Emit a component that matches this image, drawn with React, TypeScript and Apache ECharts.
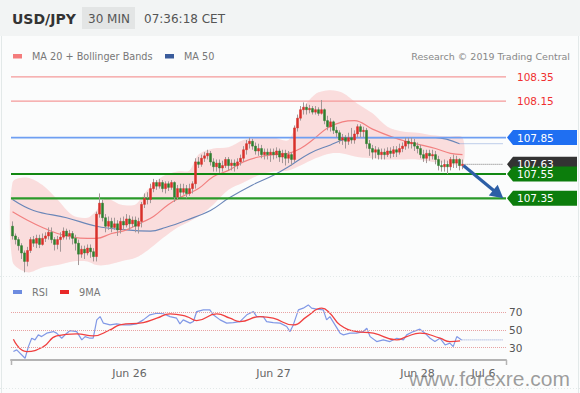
import React, { useEffect, useRef } from 'react';
import * as echarts from 'echarts';

const FONT = '"DejaVu Sans", Verdana, sans-serif';

// x slots (30-minute bars) on the shared time axis
const SLOTS = 165;
const tickLabels: [number, string][] = [[39, 'Jun 26'], [87, 'Jun 27'], [135, 'Jun 28'], [157, 'Jul 6']];

// USD/JPY 30-min candles: [open, close, low, high]
const candles: number[][] = [
  [107.12,107.04,107.01,107.16],[107.04,107.01,106.97,107.06],[107.01,106.96,106.92,107.03],[106.96,106.90,106.85,106.98],[106.90,106.83,106.74,106.92],
  [106.83,106.92,106.79,106.95],[106.92,107.01,106.90,107.03],[107.01,106.98,106.95,107.04],[106.98,107.02,106.94,107.05],[107.02,106.97,106.94,107.05],
  [106.97,107.02,106.96,107.06],[107.02,107.04,106.99,107.07],[107.04,107.07,107.01,107.11],[107.07,107.01,106.98,107.11],[107.01,106.97,106.92,107.03],
  [106.97,107.01,106.93,107.04],[107.01,107.03,106.91,107.07],[107.03,107.08,107.01,107.11],[107.08,107.04,107.01,107.10],[107.04,107.06,107.01,107.09],
  [107.06,107.02,106.97,107.08],[107.02,106.98,106.92,107.05],[106.98,106.89,106.80,107.01],[106.89,106.93,106.86,106.96],[106.93,106.90,106.85,106.96],
  [106.90,106.94,106.88,106.97],[106.94,106.91,106.86,106.97],[106.91,106.87,106.83,106.94],[106.87,107.22,106.83,107.24],[107.22,107.31,107.19,107.39],
  [107.31,107.19,107.16,107.34],[107.19,107.12,107.07,107.22],[107.12,107.16,107.09,107.20],[107.16,107.11,107.07,107.19],[107.11,107.14,107.09,107.19],
  [107.14,107.09,107.04,107.17],[107.09,107.16,107.06,107.19],[107.16,107.13,107.09,107.20],[107.13,107.18,107.11,107.22],[107.18,107.14,107.09,107.21],
  [107.14,107.17,107.11,107.20],[107.17,107.12,107.07,107.20],[107.12,107.16,107.06,107.19],[107.16,107.30,107.11,107.32],[107.30,107.35,107.27,107.39],
  [107.35,107.34,107.30,107.40],[107.34,107.43,107.31,107.47],[107.43,107.48,107.40,107.51],[107.48,107.45,107.42,107.50],[107.45,107.48,107.43,107.51],
  [107.48,107.43,107.40,107.50],[107.43,107.47,107.39,107.49],[107.47,107.44,107.41,107.49],[107.44,107.48,107.42,107.50],[107.48,107.36,107.32,107.49],
  [107.36,107.43,107.34,107.46],[107.43,107.40,107.36,107.47],[107.40,107.43,107.38,107.47],[107.43,107.39,107.35,107.46],[107.39,107.43,107.37,107.47],
  [107.43,107.47,107.39,107.49],[107.47,107.65,107.43,107.68],[107.65,107.63,107.60,107.69],[107.63,107.68,107.61,107.71],[107.68,107.70,107.65,107.73],
  [107.70,107.72,107.67,107.75],[107.72,107.65,107.62,107.74],[107.65,107.61,107.57,107.68],[107.61,107.64,107.57,107.67],[107.64,107.60,107.56,107.67],
  [107.60,107.62,107.57,107.66],[107.62,107.67,107.60,107.69],[107.67,107.62,107.58,107.69],[107.62,107.64,107.58,107.67],[107.64,107.62,107.57,107.67],
  [107.62,107.65,107.59,107.68],[107.65,107.68,107.62,107.71],[107.68,107.75,107.65,107.78],[107.75,107.80,107.71,107.83],[107.80,107.82,107.76,107.85],
  [107.82,107.78,107.75,107.84],[107.78,107.74,107.71,107.81],[107.74,107.76,107.70,107.80],[107.76,107.71,107.68,107.79],[107.71,107.73,107.67,107.76],
  [107.73,107.71,107.67,107.76],[107.71,107.73,107.65,107.76],[107.73,107.71,107.67,107.76],[107.71,107.74,107.68,107.77],[107.74,107.69,107.65,107.76],
  [107.69,107.72,107.64,107.75],[107.72,107.68,107.62,107.75],[107.68,107.71,107.64,107.74],[107.71,107.67,107.62,107.73],[107.67,107.93,107.65,107.95],
  [107.93,108.01,107.90,108.04],[108.01,108.08,107.99,108.11],[108.08,108.10,108.04,108.14],[108.10,108.08,108.04,108.13],[108.08,108.09,108.05,108.12],
  [108.09,108.06,108.04,108.11],[108.06,108.08,108.04,108.11],[108.08,108.05,108.03,108.10],[108.05,108.08,108.04,108.16],[108.08,107.99,107.96,108.09],
  [107.99,107.94,107.91,108.03],[107.94,107.98,107.90,108.01],[107.98,107.91,107.88,107.99],[107.91,107.89,107.85,107.94],[107.89,107.83,107.80,107.91],
  [107.83,107.85,107.79,107.88],[107.85,107.82,107.76,107.87],[107.82,107.85,107.79,107.89],[107.85,107.83,107.80,107.93],[107.83,107.88,107.80,107.91],
  [107.88,107.94,107.85,107.96],[107.94,107.90,107.85,107.96],[107.90,107.91,107.85,107.94],[107.91,107.80,107.76,107.93],[107.80,107.76,107.70,107.83],
  [107.76,107.73,107.67,107.79],[107.73,107.75,107.68,107.78],[107.75,107.71,107.67,107.77],[107.71,107.73,107.67,107.76],[107.73,107.71,107.67,107.76],
  [107.71,107.74,107.69,107.77],[107.74,107.72,107.68,107.77],[107.72,107.75,107.69,107.78],[107.75,107.73,107.69,107.78],[107.73,107.76,107.71,107.80],
  [107.76,107.78,107.73,107.81],[107.78,107.82,107.75,107.85],[107.82,107.80,107.76,107.85],[107.80,107.81,107.76,107.85],[107.81,107.78,107.74,107.84],
  [107.78,107.76,107.72,107.81],[107.76,107.71,107.68,107.79],[107.71,107.68,107.65,107.75],[107.68,107.72,107.64,107.75],[107.72,107.70,107.66,107.75],
  [107.70,107.71,107.67,107.75],[107.71,107.67,107.63,107.74],[107.67,107.62,107.58,107.70],[107.62,107.61,107.57,107.66],[107.61,107.63,107.57,107.67],
  [107.63,107.61,107.55,107.66],[107.61,107.67,107.58,107.69],[107.67,107.64,107.60,107.71],[107.64,107.67,107.60,107.70],[107.67,107.62,107.58,107.68],
  [107.62,107.63,107.59,107.67],
];

// MA 20 (read at bar positions)
const ma20Idx = [0,5,10,15,20,25,28,33,38,43,47,52,57,62,67,72,77,82,87,92,96,100,105,110,114,120,126,131,136,141,146,150];
const ma20Val = [107.24,107.17,107.11,107.06,107.03,107.02,107.02,107.06,107.09,107.15,107.20,107.30,107.37,107.43,107.53,107.58,107.65,107.69,107.71,107.72,107.76,107.83,107.93,107.98,107.99,107.92,107.86,107.82,107.79,107.76,107.72,107.71];

// MA 50
const ma50Idx = [0,7,18,28,38,46,51,58,66,72,80,87,92,99,106,110,115,121,132,141,149];
const ma50Val = [107.34,107.25,107.19,107.12,107.09,107.08,107.11,107.17,107.25,107.35,107.46,107.54,107.61,107.72,107.79,107.83,107.85,107.85,107.85,107.85,107.80];

// Bollinger bands
const bbIdx = [0,5,10,15,20,25,28,31,36,41,45,50,55,59,62,67,72,77,82,87,92,96,101,106,110,115,120,125,130,135,140,145,150];
const bbUpper = [107.48,107.52,107.46,107.34,107.21,107.19,107.25,107.35,107.30,107.30,107.42,107.53,107.57,107.58,107.71,107.76,107.77,107.83,107.85,107.85,107.83,108.06,108.21,108.24,108.22,108.13,108.05,107.94,107.90,107.89,107.87,107.86,107.85];
const bbLower = [106.83,106.74,106.78,106.80,106.83,106.83,106.80,106.80,106.83,106.86,106.92,107.02,107.11,107.16,107.20,107.30,107.42,107.48,107.54,107.57,107.58,107.62,107.68,107.72,107.72,107.69,107.68,107.67,107.67,107.67,107.65,107.64,107.62];

// RSI
const rsiIdx = [0.3,1.4,4.2,5.3,6.4,7.5,8.6,9.7,11.4,13.6,14.7,16.4,18.1,19.2,21.4,23.1,24.2,25.8,26.9,28.1,29.2,30.3,32.5,34.7,36.9,39.2,41.4,43.6,45.8,48.1,50.3,52.5,54.7,55.8,56.9,59.2,60.3,61.4,63.6,65.8,66.9,69.2,71.4,73.6,75.8,78.1,80.3,81.4,83.6,84.7,86.9,89.2,91.4,92.5,93.6,95.3,96.9,98.6,99.7,101.4,103.6,104.7,105.8,107.5,109.2,110.3,112.5,114.7,116.9,118.1,119.2,121.4,123.6,125.8,128.1,130.3,131.4,133.6,135.8,137.5,139.2,140.8,142.5,144.2,145.8,146.9,148.1,149.7];
const rsiVal = [25.5,27.4,18.0,31.1,40.6,38.7,44.4,42.4,46.3,48.1,46.3,40.6,46.3,49.2,48.1,38.7,42.4,40.6,40.6,61.3,65.0,57.6,55.6,56.8,55.6,55.6,56.8,61.3,67.0,68.8,68.2,65.0,63.2,56.8,61.3,57.6,59.4,70.7,72.6,72.6,67.0,61.3,57.6,58.3,59.4,67.0,70.7,65.0,65.0,59.4,58.3,57.6,53.8,48.1,55.6,72.6,74.5,78.2,74.5,73.4,72.6,61.3,65.0,55.6,46.3,44.4,46.3,46.3,48.1,51.9,42.4,36.8,38.7,36.8,40.6,38.7,44.4,48.1,50.8,46.3,40.6,36.8,40.6,33.0,35.0,31.1,42.4,38.7];

// RSI 9MA
const rsi9Idx = [0.3,4.7,10.3,14.7,21.4,26.9,32.5,35.8,43.6,48.1,52.5,58.1,61.4,68.1,72.5,75.8,82.5,86.9,93.6,98.1,103.1,105.8,109.2,114.7,120.3,128.1,131.4,135.8,142.5,145.8,149.2];
const rsi9Val = [39.5,25.5,31.1,43.2,45.5,43.2,50.0,55.6,58.3,63.2,68.1,65.0,60.5,68.1,63.2,59.4,65.0,63.2,55.6,65.0,74.5,68.9,55.6,48.1,46.3,38.7,42.4,46.3,40.6,36.8,37.6];
const rsiLevels = [70, 50, 30];

// Key levels
const resistances = [108.35, 108.15];
const pivot = 107.85;
const supports = [107.55, 107.35];
const lastPrice = 107.63;
const lastIdx = 150.3;
const projEndIdx = 163.5;
const ma50Last = 107.80;
const rsiLast = 38.7;
const arrowFrom = [150.3, 107.62];
const arrowTo = [163.6, 107.35];

export default function App() {
  const ref = useRef<HTMLDivElement>(null);
  useEffect(() => {
    const el = ref.current!;
    const chart = echarts.init(el, null, { renderer: 'svg' });
    const cats = Array.from({ length: SLOTS }, (_, i) => {
      const t = tickLabels.find((x) => x[0] === i);
      return t ? t[1] : '';
    });
    const pairs = (xs: number[], ys: number[]) => xs.map((x, k) => [x, ys[k]]);
    const bodies = candles.map((c) => [c[0], c[1], Math.min(c[0], c[1]), Math.max(c[0], c[1])]);
    const level = (v: number, color: string, width: number, z = 2) => ({
      type: 'line', xAxisIndex: 1, yAxisIndex: 0, z, symbol: 'none', silent: true,
      data: [[-0.5, v], [SLOTS - 0.5, v]],
      lineStyle: { color, width, type: 'solid' },
    });

    const option: any = {
      animation: false,
      textStyle: { fontFamily: FONT },
      grid: [
        { left: 11, width: 495, top: 66, height: 210, containLabel: false, outerBoundsMode: 'none' },
        { left: 11, width: 495, top: 298, height: 62, containLabel: false, outerBoundsMode: 'none' },
      ],
      xAxis: [
        { type: 'category', gridIndex: 0, data: cats, boundaryGap: true, show: false },
        { type: 'value', gridIndex: 0, min: -0.5, max: SLOTS - 0.5, show: false },
        {
          type: 'category', gridIndex: 1, data: cats, boundaryGap: true,
          axisLine: { show: true, lineStyle: { color: '#b4b4b4', width: 2 } },
          axisTick: { show: false },
          splitLine: { show: false },
          axisLabel: {
            interval: (_i: number, v: string) => v !== '',
            color: '#666', fontSize: 11, fontFamily: FONT, margin: 8,
          },
        },
        { type: 'value', gridIndex: 1, min: -0.5, max: SLOTS - 0.5, show: false },
      ],
      yAxis: [
        { type: 'value', gridIndex: 0, min: 106.71, max: 108.44, show: false, splitLine: { show: false } },
        { type: 'value', gridIndex: 1, min: 16, max: 86, show: false, splitLine: { show: false } },
      ],
      series: [
        {
          type: 'custom', xAxisIndex: 1, yAxisIndex: 0, z: 1, silent: true,
          data: [[0, bbLower[0]]],
          renderItem: (_p: any, api: any) => {
            const up = bbIdx.map((x, k) => api.coord([x, bbUpper[k]]));
            const lo = bbIdx.map((x, k) => api.coord([x, bbLower[k]])).reverse();
            return {
              type: 'polygon',
              shape: { points: up.concat(lo), smooth: 0.3 },
              style: { fill: 'rgba(248,150,150,0.30)' },
            };
          },
        },
        {
          type: 'line', xAxisIndex: 1, yAxisIndex: 0, z: 2, symbol: 'none', smooth: 0.4,
          data: pairs(ma50Idx, ma50Val),
          lineStyle: { color: '#6a86b8', width: 1.1 },
        },
        {
          type: 'line', xAxisIndex: 1, yAxisIndex: 0, z: 2, symbol: 'none', smooth: 0.4,
          data: pairs(ma20Idx, ma20Val),
          lineStyle: { color: '#f28080', width: 1.2 },
        },
        {
          type: 'line', xAxisIndex: 1, yAxisIndex: 0, z: 2, symbol: 'none',
          data: [[149, ma50Last], [projEndIdx, ma50Last]],
          lineStyle: { color: '#7f9fd8', width: 1, type: 'dotted' },
        },
        {
          type: 'line', xAxisIndex: 1, yAxisIndex: 0, z: 2, symbol: 'none',
          data: [[lastIdx, lastPrice], [projEndIdx, lastPrice]],
          lineStyle: { color: '#777', width: 1, type: 'dotted' },
        },
        level(resistances[0], '#f59a9a', 1.2),
        level(resistances[1], '#f59a9a', 1.2),
        level(pivot, '#6f9ff2', 1.6),
        level(supports[0], '#128812', 2),
        level(supports[1], '#2a9a2a', 2.2),
        {
          type: 'candlestick', xAxisIndex: 0, yAxisIndex: 0, z: 3, barWidth: 0.5,
          data: candles,
          itemStyle: { color: '#a39797', color0: '#a39797', borderColor: '#a39797', borderColor0: '#a39797', borderWidth: 1 },
        },
        {
          type: 'candlestick', xAxisIndex: 0, yAxisIndex: 0, z: 4, barWidth: 2,
          data: bodies,
          itemStyle: { color: '#d8302a', color0: '#2e7f2e', borderColor: '#d8302a', borderColor0: '#2e7f2e', borderWidth: 0.5 },
        },
        {
          type: 'line', xAxisIndex: 3, yAxisIndex: 1, z: 3, symbol: 'none',
          data: pairs(rsiIdx, rsiVal),
          lineStyle: { color: '#8098e6', width: 1.2 },
          markLine: {
            silent: true, symbol: ['none', 'none'],
            data: rsiLevels.map((v) => ({ yAxis: v })),
            lineStyle: { type: 'dotted', color: '#e8a2a2', width: 1 },
            label: {
              show: true, position: 'end', distance: 3,
              formatter: (p: any) => String(p.value),
              color: '#555', fontSize: 10.5, fontFamily: FONT,
            },
          },
        },
        {
          type: 'line', xAxisIndex: 3, yAxisIndex: 1, z: 4, symbol: 'none', smooth: 0.5,
          data: pairs(rsi9Idx, rsi9Val),
          lineStyle: { color: '#f04040', width: 1.3 },
        },
        {
          type: 'line', xAxisIndex: 3, yAxisIndex: 1, z: 3, symbol: 'none',
          data: [[149.7, rsiLast], [projEndIdx, rsiLast]],
          lineStyle: { color: '#8a9fd6', width: 1, type: 'dotted' },
        },
      ],
    };
    chart.setOption(option);

    const yPx = (v: number) => chart.convertToPixel({ yAxisIndex: 0 } as any, v) as unknown as number;
    const xyPx = (p: number[]) => chart.convertToPixel({ seriesIndex: 1 } as any, p) as unknown as number[];

    const g: any[] = [];
    const txt = (x: number, y: number, text: string, font: string, fill: string, align = 'left', z = 10) => ({
      type: 'text', x, y, z,
      style: { text, font, fill, textAlign: align, textVerticalAlign: 'middle' },
    });
    // header
    g.push({ type: 'rect', shape: { x: 0, y: 0, width: 580, height: 36 }, style: { fill: '#f2f4f4' }, z: 0 });
    g.push({ type: 'rect', shape: { x: 82, y: 7, width: 53, height: 22 }, style: { fill: '#e3e5e5' }, z: 1 });
    g.push(txt(12, 18.5, 'USD/JPY', `bold 14px ${FONT}`, '#333'));
    g.push(txt(88, 18.5, '30 MIN', `12px ${FONT}`, '#555'));
    g.push(txt(144, 18.5, '07:36:18 CET', `12px ${FONT}`, '#555'));
    // legends
    g.push({ type: 'rect', shape: { x: 13, y: 54, width: 9, height: 4.5 }, style: { fill: '#f47c7c' }, z: 10 });
    g.push(txt(32, 56.5, 'MA 20 + Bollinger Bands', `9.7px ${FONT}`, '#777'));
    g.push({ type: 'rect', shape: { x: 165, y: 54, width: 9, height: 4.5 }, style: { fill: '#3a5c9c' }, z: 10 });
    g.push(txt(184, 56.5, 'MA 50', `9.7px ${FONT}`, '#777'));
    g.push(txt(570, 56.5, 'Research © 2019 Trading Central', `9.5px ${FONT}`, '#888', 'right'));
    g.push({ type: 'rect', shape: { x: 13, y: 290, width: 9, height: 4 }, style: { fill: '#6d8ce0' }, z: 10 });
    g.push(txt(32, 292, 'RSI', `9.8px ${FONT}`, '#777'));
    g.push({ type: 'rect', shape: { x: 60, y: 290, width: 9, height: 4 }, style: { fill: '#e82828' }, z: 10 });
    g.push(txt(79, 292, '9MA', `9.8px ${FONT}`, '#777'));
    // faint frame
    const frame = { stroke: '#e3e9e9', lineWidth: 1 };
    g.push({ type: 'line', shape: { x1: 0, y1: 276.5, x2: 580, y2: 276.5 }, style: { ...frame, lineDash: [1, 2] }, z: 0 });
    g.push({ type: 'line', shape: { x1: 0, y1: 388.5, x2: 580, y2: 388.5 }, style: { ...frame, lineDash: [1, 2] }, z: 0 });
    g.push({ type: 'line', shape: { x1: 1.5, y1: 36, x2: 1.5, y2: 393 }, style: frame, z: 0 });
    g.push({ type: 'line', shape: { x1: 578.5, y1: 36, x2: 578.5, y2: 393 }, style: frame, z: 0 });
    // axis end ticks
    g.push({ type: 'line', shape: { x1: 11.5, y1: 360, x2: 11.5, y2: 365 }, style: { stroke: '#b4b4b4', lineWidth: 1.5 }, z: 5 });
    g.push({ type: 'line', shape: { x1: 506.5, y1: 360, x2: 506.5, y2: 365 }, style: { stroke: '#b4b4b4', lineWidth: 1.5 }, z: 5 });

    // price labels
    for (const r of resistances) g.push(txt(517, yPx(r), r.toFixed(2), `10.5px ${FONT}`, '#f03030'));
    const box = (price: number, fill: string) => {
      const y = yPx(price);
      const h = 15;
      g.push({
        type: 'polygon', z: 10,
        shape: { points: [[507, y], [513, y - h / 2], [577, y - h / 2], [577, y + h / 2], [513, y + h / 2]] },
        style: { fill },
      });
      g.push(txt(517, y, price.toFixed(2), `10.5px ${FONT}`, '#ffffff', 'left', 11));
    };
    box(pivot, '#1f6ff2');
    box(lastPrice, '#333333');
    box(supports[0], '#0c7d0c');
    box(supports[1], '#0c7d0c');

    // projection arrow
    const p0 = xyPx(arrowFrom);
    const p1 = xyPx(arrowTo);
    const dx = p1[0] - p0[0], dy = p1[1] - p0[1];
    const len = Math.sqrt(dx * dx + dy * dy);
    const ux = dx / len, uy = dy / len;
    const L = 13, W = 7;
    const bx = p1[0] - ux * L, by = p1[1] - uy * L;
    g.push({ type: 'line', z: 12, shape: { x1: p0[0], y1: p0[1], x2: bx + ux, y2: by + uy }, style: { stroke: '#2d5fa6', lineWidth: 3.2 } });
    g.push({
      type: 'polygon', z: 12,
      shape: { points: [[p1[0], p1[1]], [bx - uy * W, by + ux * W], [bx + uy * W, by - ux * W]] },
      style: { fill: '#2d5fa6' },
    });

    // watermark
    g.push(txt(570, 378, 'www.forexre.com', `21px "Liberation Sans", Arial, sans-serif`, 'rgba(125,125,125,0.75)', 'right', 50));

    chart.setOption({ graphic: g });
    return () => chart.dispose();
  }, []);
  return <div ref={ref} style={{ position: 'fixed', left: 0, top: 0, width: 580, height: 393, background: '#fbfcfc' }} />;
}
